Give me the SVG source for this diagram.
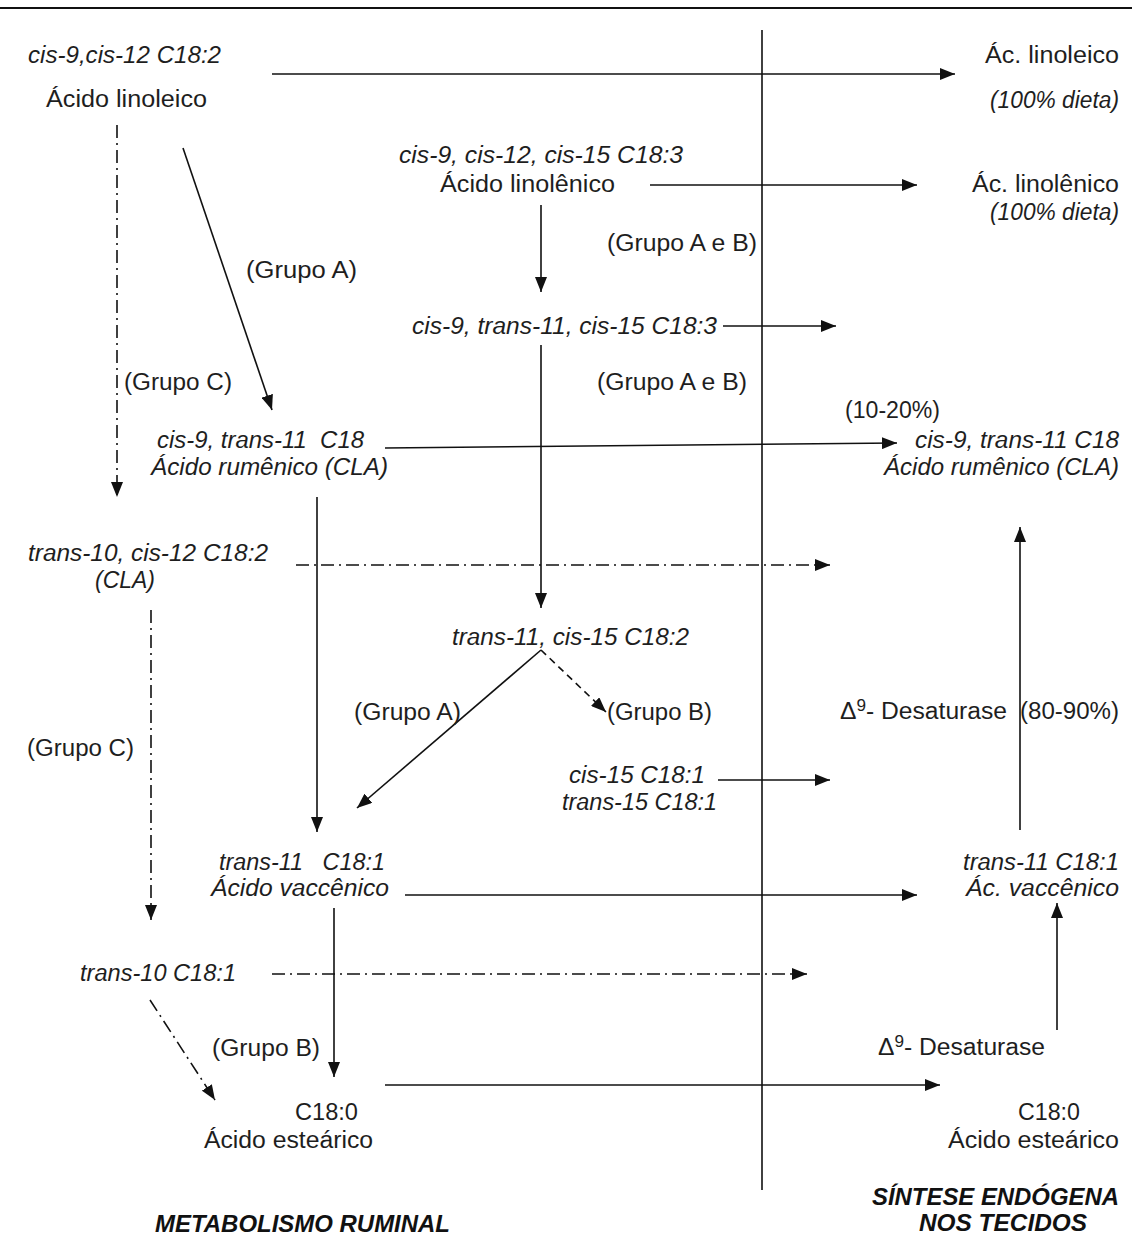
<svg xmlns="http://www.w3.org/2000/svg" width="1132" height="1252" viewBox="0 0 1132 1252">
<style>
text{font-family:"Liberation Sans",Arial,sans-serif;font-size:23px;fill:#1e1e1e}
.i{font-style:italic}
.h{font-family:"Liberation Sans Narrow","Liberation Sans",sans-serif;font-weight:bold;font-style:italic;font-size:24px;fill:#111}
.e{text-anchor:end}
.m{text-anchor:middle}
line{stroke:#111;stroke-width:1.6;fill:none}
.a{marker-end:url(#ah)}
.dd{stroke-dasharray:13 5 2 5}
.d{stroke-dasharray:7 5}
</style>
<defs>
<marker id="ah" markerUnits="userSpaceOnUse" markerWidth="15" markerHeight="12" viewBox="0 0 15 12" refX="15" refY="6" orient="auto">
<path d="M0,0 L15,6 L0,12 z" fill="#111"/>
</marker>
</defs>
<rect width="1132" height="1252" fill="#fff"/>
<line x1="0" y1="8" x2="1132" y2="8" style="stroke-width:2"/>
<g id="connectors">
<line x1="762" y1="30" x2="762" y2="1190"/>
<line class="a" x1="272" y1="74" x2="955" y2="74"/>
<line class="a dd" x1="117" y1="125" x2="117" y2="497"/>
<line class="a" x1="183" y1="148" x2="272" y2="410"/>
<line class="a" x1="650" y1="185" x2="917" y2="185"/>
<line class="a" x1="541" y1="205" x2="541" y2="292"/>
<line class="a" x1="723" y1="326" x2="836" y2="326"/>
<line class="a" x1="541" y1="345" x2="541" y2="608"/>
<line class="a" x1="385" y1="448" x2="897" y2="443"/>
<line class="a" x1="1020" y1="830" x2="1020" y2="527"/>
<line class="a dd" x1="296" y1="565" x2="830" y2="565"/>
<line class="a" x1="317" y1="497" x2="317" y2="832"/>
<line class="a dd" x1="151" y1="610" x2="151" y2="920"/>
<line class="a" x1="541" y1="650" x2="357" y2="808"/>
<line class="a d" x1="541" y1="650" x2="606" y2="712"/>
<line class="a" x1="718" y1="780" x2="830" y2="780"/>
<line class="a" x1="405" y1="895" x2="917" y2="895"/>
<line class="a dd" x1="272" y1="974" x2="807" y2="974"/>
<line class="a" x1="334" y1="908" x2="334" y2="1077"/>
<line class="a dd" x1="150" y1="1000" x2="215" y2="1100"/>
<line class="a" x1="1057" y1="1030" x2="1057" y2="903"/>
<line class="a" x1="385" y1="1085" x2="940" y2="1085"/>
</g>
<g id="n-linoleico">
<text class="i" x="28" y="63" textLength="193" lengthAdjust="spacingAndGlyphs">cis-9,cis-12 C18:2</text>
<text x="46" y="107" textLength="161" lengthAdjust="spacingAndGlyphs">Ácido linoleico</text>
</g>
<g id="n-ac-linoleico">
<text class="e" x="1119" y="63" textLength="134" lengthAdjust="spacingAndGlyphs">Ác. linoleico</text>
<text class="e i" x="1119" y="108" textLength="129" lengthAdjust="spacingAndGlyphs">(100% dieta)</text>
</g>
<g id="n-linolenico">
<text class="i" x="399" y="163" textLength="284" lengthAdjust="spacingAndGlyphs">cis-9, cis-12, cis-15 C18:3</text>
<text x="440" y="192" textLength="175" lengthAdjust="spacingAndGlyphs">Ácido linolênico</text>
</g>
<g id="n-ac-linolenico">
<text class="e" x="1119" y="192" textLength="147" lengthAdjust="spacingAndGlyphs">Ác. linolênico</text>
<text class="e i" x="1119" y="220" textLength="129" lengthAdjust="spacingAndGlyphs">(100% dieta)</text>
</g>
<g id="labels">
<text x="607" y="251" textLength="150" lengthAdjust="spacingAndGlyphs">(Grupo A e B)</text>
<text x="246" y="278" textLength="111" lengthAdjust="spacingAndGlyphs">(Grupo A)</text>
<text x="597" y="390" textLength="150" lengthAdjust="spacingAndGlyphs">(Grupo A e B)</text>
<text x="124" y="390" textLength="108" lengthAdjust="spacingAndGlyphs">(Grupo C)</text>
<text x="845" y="418" textLength="95" lengthAdjust="spacingAndGlyphs">(10-20%)</text>
<text x="354" y="720" textLength="107" lengthAdjust="spacingAndGlyphs">(Grupo A)</text>
<text x="607" y="720" textLength="105" lengthAdjust="spacingAndGlyphs">(Grupo B)</text>
<text x="27" y="756" textLength="107" lengthAdjust="spacingAndGlyphs">(Grupo C)</text>
<text x="840" y="719" textLength="167" lengthAdjust="spacingAndGlyphs">Δ<tspan dy="-8" font-size="16">9</tspan><tspan dy="8">- Desaturase</tspan></text>
<text x="1020" y="719" textLength="99" lengthAdjust="spacingAndGlyphs">(80-90%)</text>
<text x="212" y="1056" textLength="108" lengthAdjust="spacingAndGlyphs">(Grupo B)</text>
<text x="878" y="1055" textLength="167" lengthAdjust="spacingAndGlyphs">Δ<tspan dy="-8" font-size="16">9</tspan><tspan dy="8">- Desaturase</tspan></text>
</g>
<g id="n-c18-3">
<text class="i" x="412" y="334" textLength="305" lengthAdjust="spacingAndGlyphs">cis-9, trans-11, cis-15 C18:3</text>
</g>
<g id="n-rumenico">
<text class="i" x="157" y="448" textLength="207" lengthAdjust="spacingAndGlyphs" xml:space="preserve">cis-9, trans-11  C18</text>
<text class="i" x="151" y="475" textLength="237" lengthAdjust="spacingAndGlyphs">Ácido rumênico (CLA)</text>
</g>
<g id="n-rumenico-t">
<text class="e i" x="1119" y="448" textLength="204" lengthAdjust="spacingAndGlyphs">cis-9, trans-11 C18</text>
<text class="e i" x="1119" y="475" textLength="235" lengthAdjust="spacingAndGlyphs">Ácido rumênico (CLA)</text>
</g>
<g id="n-t10c12">
<text class="i" x="28" y="561" textLength="240" lengthAdjust="spacingAndGlyphs">trans-10, cis-12 C18:2</text>
<text class="i" x="95" y="588" textLength="60" lengthAdjust="spacingAndGlyphs">(CLA)</text>
</g>
<g id="n-t11c15">
<text class="i" x="452" y="645" textLength="237" lengthAdjust="spacingAndGlyphs">trans-11, cis-15 C18:2</text>
</g>
<g id="n-c15">
<text class="i" x="569" y="783" textLength="136" lengthAdjust="spacingAndGlyphs">cis-15 C18:1</text>
<text class="i" x="562" y="810" textLength="155" lengthAdjust="spacingAndGlyphs">trans-15 C18:1</text>
</g>
<g id="n-vaccenico">
<text class="i" x="219" y="870" textLength="166" lengthAdjust="spacingAndGlyphs" xml:space="preserve">trans-11   C18:1</text>
<text class="i" x="211" y="896" textLength="178" lengthAdjust="spacingAndGlyphs">Ácido vaccênico</text>
</g>
<g id="n-vaccenico-t">
<text class="e i" x="1119" y="870" textLength="156" lengthAdjust="spacingAndGlyphs">trans-11 C18:1</text>
<text class="e i" x="1119" y="896" textLength="153" lengthAdjust="spacingAndGlyphs">Ác. vaccênico</text>
</g>
<g id="n-t10">
<text class="i" x="80" y="981" textLength="156" lengthAdjust="spacingAndGlyphs">trans-10 C18:1</text>
</g>
<g id="n-estearico">
<text x="295" y="1120" textLength="63" lengthAdjust="spacingAndGlyphs">C18:0</text>
<text x="204" y="1148" textLength="169" lengthAdjust="spacingAndGlyphs">Ácido esteárico</text>
</g>
<g id="n-estearico-t">
<text x="1018" y="1120" textLength="62" lengthAdjust="spacingAndGlyphs">C18:0</text>
<text class="e" x="1119" y="1148" textLength="171" lengthAdjust="spacingAndGlyphs">Ácido esteárico</text>
</g>
<g id="headings">
<text class="h" x="155" y="1232" textLength="295" lengthAdjust="spacingAndGlyphs">METABOLISMO RUMINAL</text>
<text class="h e" x="1119" y="1205" textLength="247" lengthAdjust="spacingAndGlyphs">SÍNTESE ENDÓGENA</text>
<text class="h m" x="1003" y="1231" textLength="168" lengthAdjust="spacingAndGlyphs">NOS TECIDOS</text>
</g>
</svg>
